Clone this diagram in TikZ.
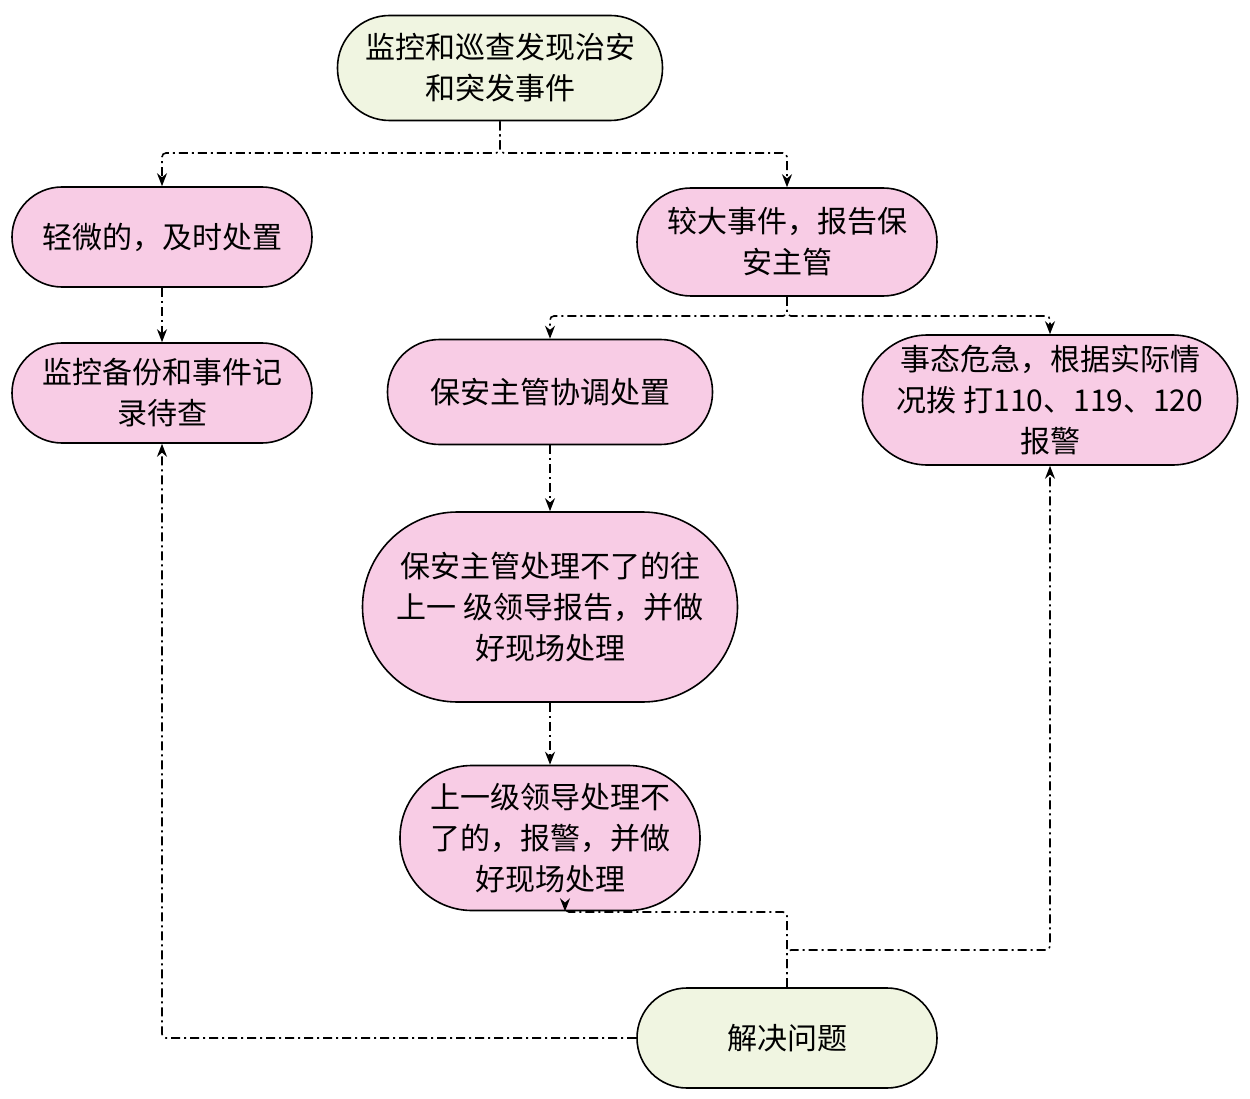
\documentclass[tikz,border=0pt]{standalone}
\usepackage{fontspec}
\setmainfont{Noto Sans CJK SC}
\usetikzlibrary{arrows.meta}
\definecolor{startfill}{HTML}{F0F5E1}
\definecolor{stepfill}{HTML}{F8CCE5}
\tikzset{
	box/.style={draw, line width=1.6pt, align=center, inner sep=0pt, font=\fontsize{30}{41}\selectfont},
	startbox/.style={box, fill=startfill},
	stepbox/.style={box, fill=stepfill},
	link/.style={line width=1.6pt, dash pattern=on 9pt off 4pt on 2pt off 4pt, -{Stealth[length=13pt,width=10pt]}, rounded corners=4pt}
}
\begin{document}
\begin{tikzpicture}[x=1pt,y=-1pt]
		\useasboundingbox (0,0) rectangle (1250,1099);
		
		% Nodes
		\node[startbox, minimum width=325pt, minimum height=105pt, rounded corners=52pt] (report) at (500,68) {监控和巡查发现治安\\和突发事件};
		\node[stepbox, minimum width=300pt, minimum height=100pt, rounded corners=50pt] (minor) at (162,237) {轻微的，及时处置};
		\node[stepbox, minimum width=300pt, minimum height=108pt, rounded corners=54pt] (major) at (787,242) {较大事件，报告保\\安主管};
		\node[stepbox, minimum width=300pt, minimum height=100pt, rounded corners=50pt] (record) at (162,393) {监控备份和事件记\\录待查};
		\node[stepbox, minimum width=325pt, minimum height=105pt, rounded corners=52pt] (coord) at (550,392) {保安主管协调处置};
		\node[stepbox, minimum width=375pt, minimum height=130pt, rounded corners=65pt] (alarm) at (1050,400) {事态危急，根据实际情\\况拨 打110、119、120\\报警};
		\node[stepbox, minimum width=375pt, minimum height=190pt, rounded corners=95pt] (upper) at (550,607) {保安主管处理不了的往\\上一 级领导报告，并做\\好现场处理};
		\node[stepbox, minimum width=300pt, minimum height=145pt, rounded corners=72pt] (police) at (550,838) {上一级领导处理不\\了的，报警，并做\\好现场处理};
		\node[startbox, minimum width=300pt, minimum height=100pt, rounded corners=50pt] (solved) at (787,1038) {解决问题};
		
		% Connectors
		\draw[link] (report.south) |- (162,153) -- (minor.north);
		\draw[link] (report.south) |- (787,153) -- (major.north);
		\draw[link] (minor) -- (record);
		\draw[link] (major.south) |- (550,316) -- (coord.north);
		\draw[link] (major.south) |- (1050,316) -- (alarm.north);
		\draw[link] (coord) -- (upper);
		\draw[link] (upper) -- (police);
		\draw[link] (solved.west) -| (record.south);
		\draw[link] (solved.north) |- (1050,950) -- (alarm.south);
		\draw[link] (solved.north) |- (565,912) -- (police.south -| 565,0);
\end{tikzpicture}
\end{document}
